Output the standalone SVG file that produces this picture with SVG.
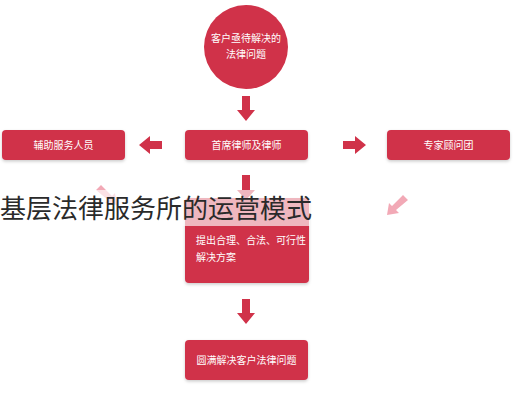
<svg xmlns="http://www.w3.org/2000/svg" width="516" height="400" viewBox="0 0 516 400">
<defs>
<style>
.box{fill:#d03249;}
.lbl{fill:#ffffff;font-family:"Noto Sans CJK SC","Noto Sans",sans-serif;font-size:10px;text-anchor:middle;}
.arr{fill:#d03249;}
.parr{fill:#f2a9b6;}
.title{fill:#2a2a2a;font-family:"Noto Sans CJK SC","Noto Sans",sans-serif;font-size:26px;}
</style>
<filter id="sh" x="-10%" y="-10%" width="120%" height="130%">
<feDropShadow dx="0" dy="1.5" stdDeviation="1.5" flood-color="#000" flood-opacity="0.2"/>
</filter>
</defs>
<rect width="516" height="400" fill="#ffffff"/>
<g id="connectors">
<path class="arr" d="M242,96 h8 v14 h5 l-9,11 l-9,-11 h5 z"/>
<path class="arr" d="M162,141 v8 h-12 v5 l-11,-9 l11,-9 v5 z"/>
<path class="arr" d="M343,141 v8 h12 v5 l11,-9 l-11,-9 v5 z"/>
<path class="parr" d="M96,190 l5,-5 l11,11 l3,-3 l2,12 l-12,-2 l3,-3 z"/>
<path class="parr" d="M408,200 l-5,-5 l-11,11 l-3,-3 l-2,12 l12,-2 l-3,-3 z"/>
<path class="arr" d="M242,175 h8 v15 h5 l-9,10 l-9,-10 h5 z"/>
<path class="arr" d="M242,299 h8 v14 h5 l-9,11 l-9,-11 h5 z"/>
</g>
<g id="n-circle">
<circle cx="246" cy="47" r="42" class="box"/>
<text class="lbl" x="246" y="42">客户亟待解决的</text>
<text class="lbl" x="246" y="58">法律问题</text>
</g>
<g id="n-left">
<rect x="2" y="130" width="123" height="30" rx="4" class="box" filter="url(#sh)"/>
<text class="lbl" x="63.5" y="149">辅助服务人员</text>
</g>
<g id="n-center">
<rect x="185" y="130" width="123" height="30" rx="4" class="box" filter="url(#sh)"/>
<text class="lbl" x="246.5" y="149">首席律师及律师</text>
</g>
<g id="n-right">
<rect x="387" y="130" width="123" height="30" rx="4" class="box" filter="url(#sh)"/>
<text class="lbl" x="448.5" y="149">专家顾问团</text>
</g>
<g id="n-middle">
<rect x="185" y="198" width="124" height="85" rx="4" class="box" filter="url(#sh)"/>
<text class="lbl" x="196" y="244" style="text-anchor:start">提出合理、合法、可行性</text>
<text class="lbl" x="196" y="261" style="text-anchor:start">解决方案</text>
</g>
<g id="n-bottom">
<rect x="185" y="340" width="123" height="40" rx="4" class="box" filter="url(#sh)"/>
<text class="lbl" x="246.5" y="364">圆满解决客户法律问题</text>
</g>
<rect x="0" y="190" width="310" height="36" fill="#ffffff" fill-opacity="0.65"/>
<text class="title" x="0" y="218">基层法律服务所的运营模式</text>
</svg>
